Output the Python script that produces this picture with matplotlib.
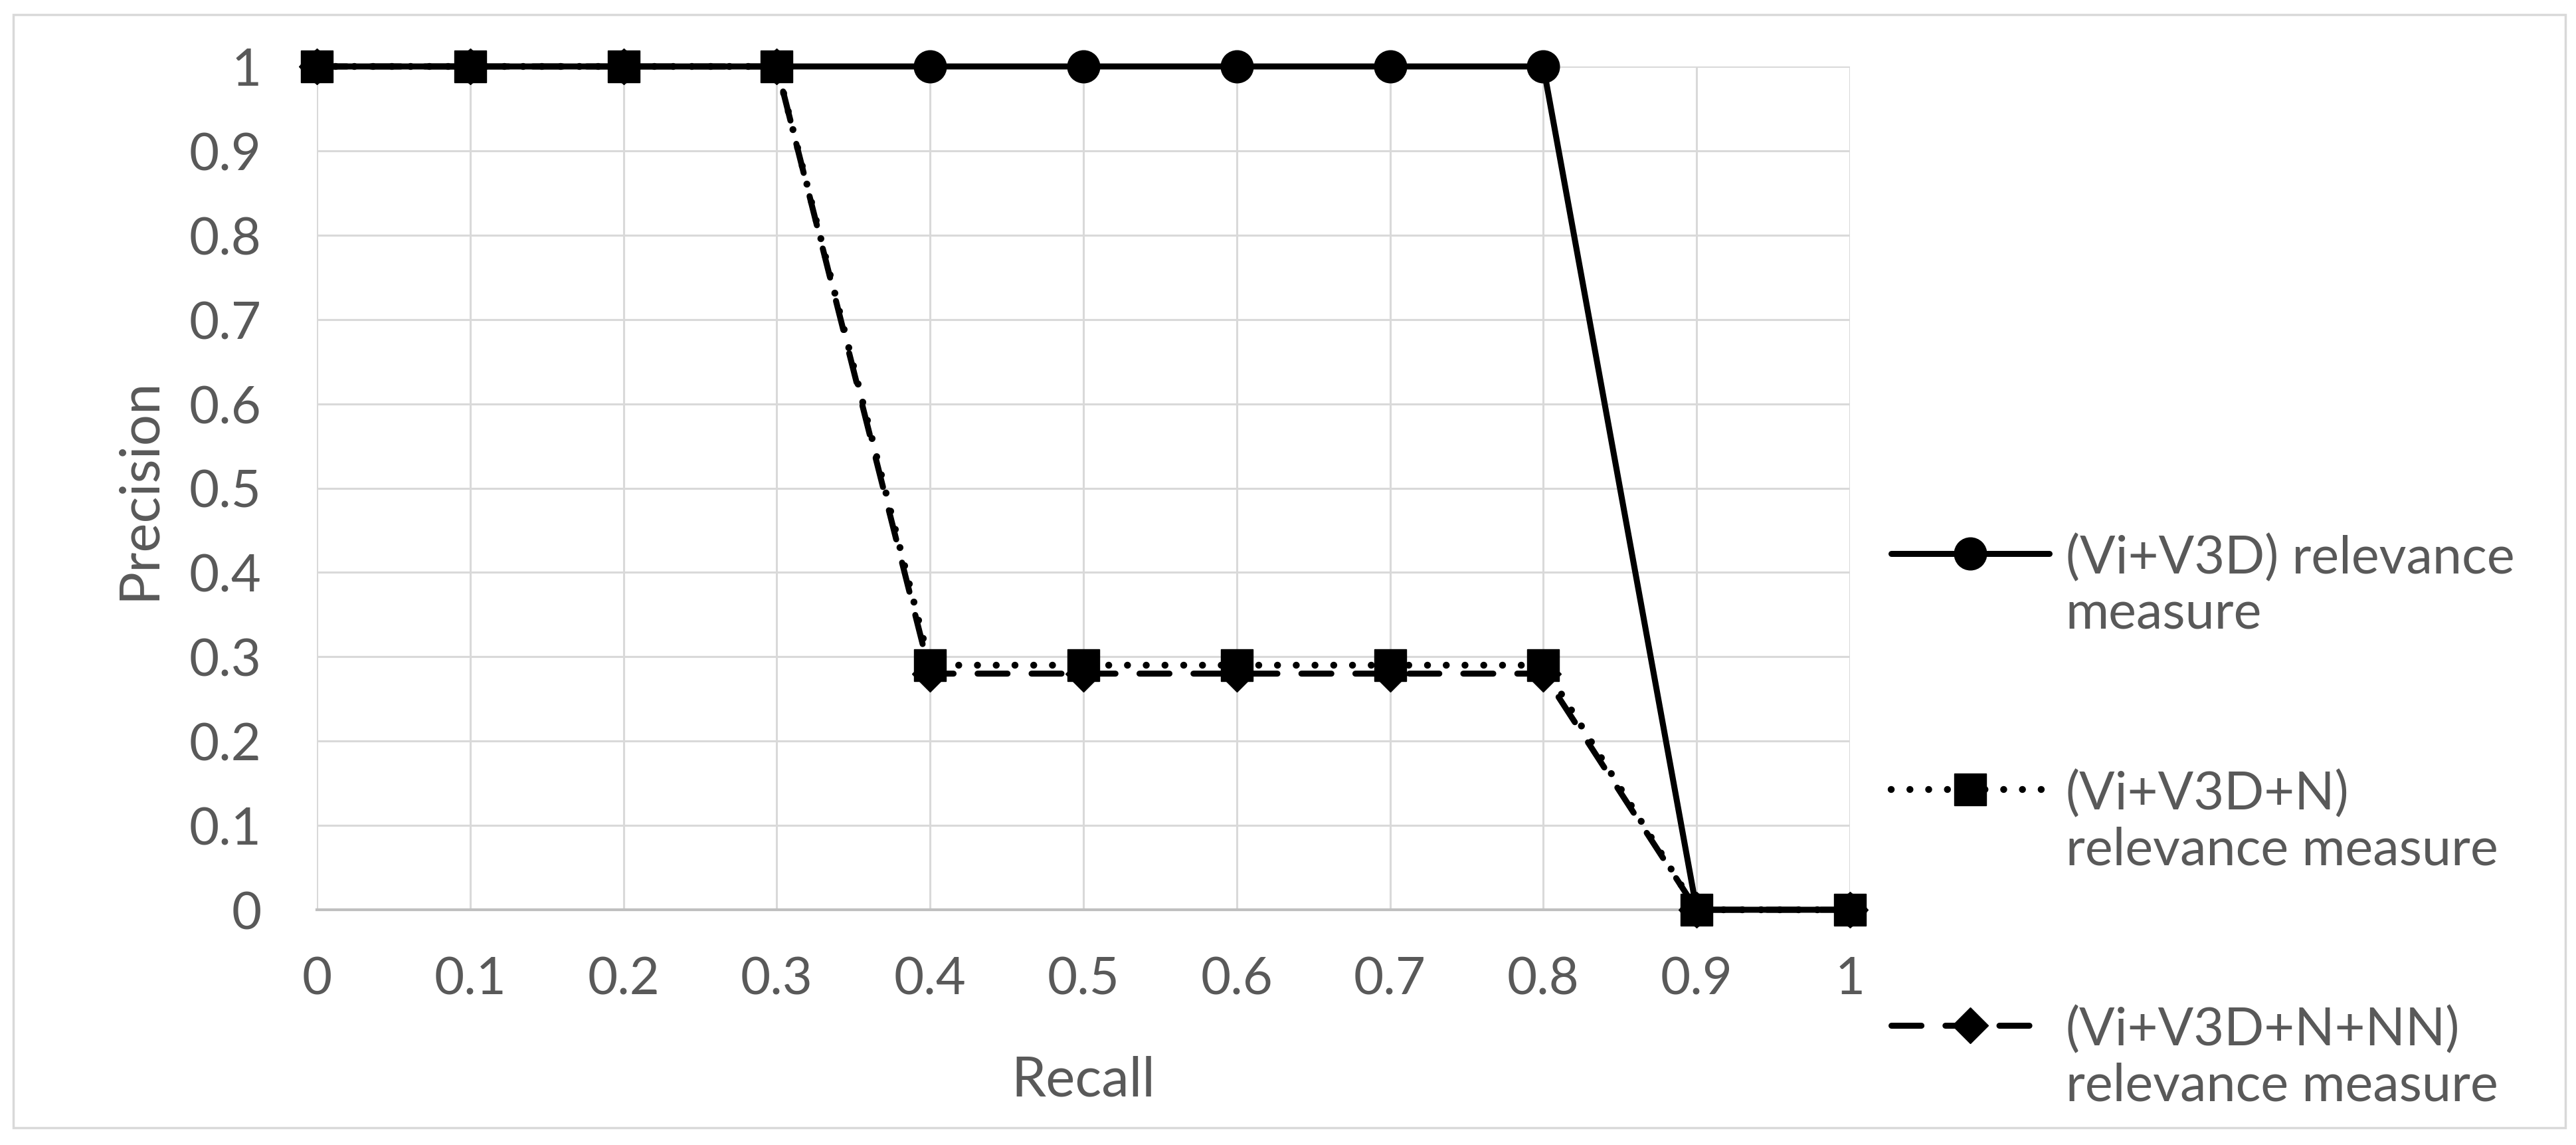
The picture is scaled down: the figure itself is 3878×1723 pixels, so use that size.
import matplotlib
matplotlib.use('Agg')
import matplotlib.pyplot as plt
from matplotlib.legend_handler import HandlerLine2D
from matplotlib.patches import Rectangle

plt.rcParams['font.family'] = ['Lato', 'DejaVu Sans']

# donnees
recall = [0, 0.1, 0.2, 0.3, 0.4, 0.5, 0.6, 0.7, 0.8, 0.9, 1]
prec_vi_v3d = [1, 1, 1, 1, 1, 1, 1, 1, 1, 0, 0]
prec_vi_v3d_n = [1, 1, 1, 1, 0.29, 0.29, 0.29, 0.29, 0.29, 0, 0]
prec_vi_v3d_n_nn = [1, 1, 1, 1, 0.28, 0.28, 0.28, 0.28, 0.28, 0, 0]
labels = ['(Vi+V3D) relevance\nmeasure',
          '(Vi+V3D+N)\nrelevance measure',
          '(Vi+V3D+N+NN)\nrelevance measure']
yticks = [0, 0.1, 0.2, 0.3, 0.4, 0.5, 0.6, 0.7, 0.8, 0.9, 1]

txt_col = '#595959'
grid_col = '#d9d9d9'
fs = 56


class FirstLineHandler(HandlerLine2D):
    # met le symbole en face de la premiere ligne du texte
    def create_artists(self, legend, orig_handle, xdescent, ydescent,
                       width, height, fontsize, trans):
        arts = super().create_artists(legend, orig_handle, xdescent, ydescent,
                                      width, height, fontsize, trans)
        for a in arts:
            a.set_ydata(a.get_ydata() + 0.62 * fontsize)
        return arts


fig = plt.figure(figsize=(38.78, 17.24), dpi=100)
ax = fig.add_axes([477/3878, 1-1370/1724, (2785-477)/3878, (1370-101)/1724])

l1, = ax.plot(recall, prec_vi_v3d, color='black', lw=6.5, marker='o', ms=35,
              solid_capstyle='round', clip_on=False, zorder=3)
l2, = ax.plot(recall, prec_vi_v3d_n, color='black', lw=7.5, marker='s', ms=34,
              linestyle=(0, (0.01, 2.7)), dash_capstyle='round',
              clip_on=False, zorder=4)
l3, = ax.plot(recall, prec_vi_v3d_n_nn, color='black', lw=6.5, marker='D', ms=28,
              linestyle=(0, (5, 4)), dash_capstyle='round',
              clip_on=False, zorder=5)

ax.set_xlim(0, 1)
ax.set_ylim(0, 1)
ax.set_xticks(recall)
ax.set_yticks(yticks)
ax.set_xticklabels(['{:g}'.format(v) for v in recall])
ax.set_yticklabels(['{:g}'.format(v) for v in yticks])
ax.grid(True, color=grid_col, lw=2.2, zorder=0)
ax.set_axisbelow(True)
for s in ['top', 'right', 'left']:
    ax.spines[s].set_visible(False)
ax.spines['bottom'].set_color('#bfbfbf')
ax.spines['bottom'].set_linewidth(3)
ax.tick_params(axis='both', length=0, labelsize=fs, labelcolor=txt_col)
ax.tick_params(axis='y', pad=60)
ax.tick_params(axis='x', pad=50)

ax.set_xlabel('Recall', fontsize=60, color=txt_col, va='center')
ax.set_ylabel('Precision', fontsize=60, color=txt_col, va='center')
ax.xaxis.set_label_coords(0.5, -0.2025)
ax.yaxis.set_label_coords(-0.1157, 0.5)

leg = fig.legend([l1, l2, l3], labels, loc='center left',
                 bbox_to_anchor=(2847/3878, 1-1237/1724), frameon=False,
                 fontsize=57, numpoints=1, handlelength=3.0, handletextpad=0.32,
                 labelspacing=2.5, borderpad=0, borderaxespad=0,
                 handler_map={matplotlib.lines.Line2D: FirstLineHandler()})
for t in leg.get_texts():
    t.set_color(txt_col)

# cadre exterieur
fig.add_artist(Rectangle((20/3878, 1-1698/1724), (3862-20)/3878, (1698-23)/1724,
                         transform=fig.transFigure, fill=False,
                         ec=grid_col, lw=2.5))

fig.savefig('out.png', dpi=100)
plt.close('all')
